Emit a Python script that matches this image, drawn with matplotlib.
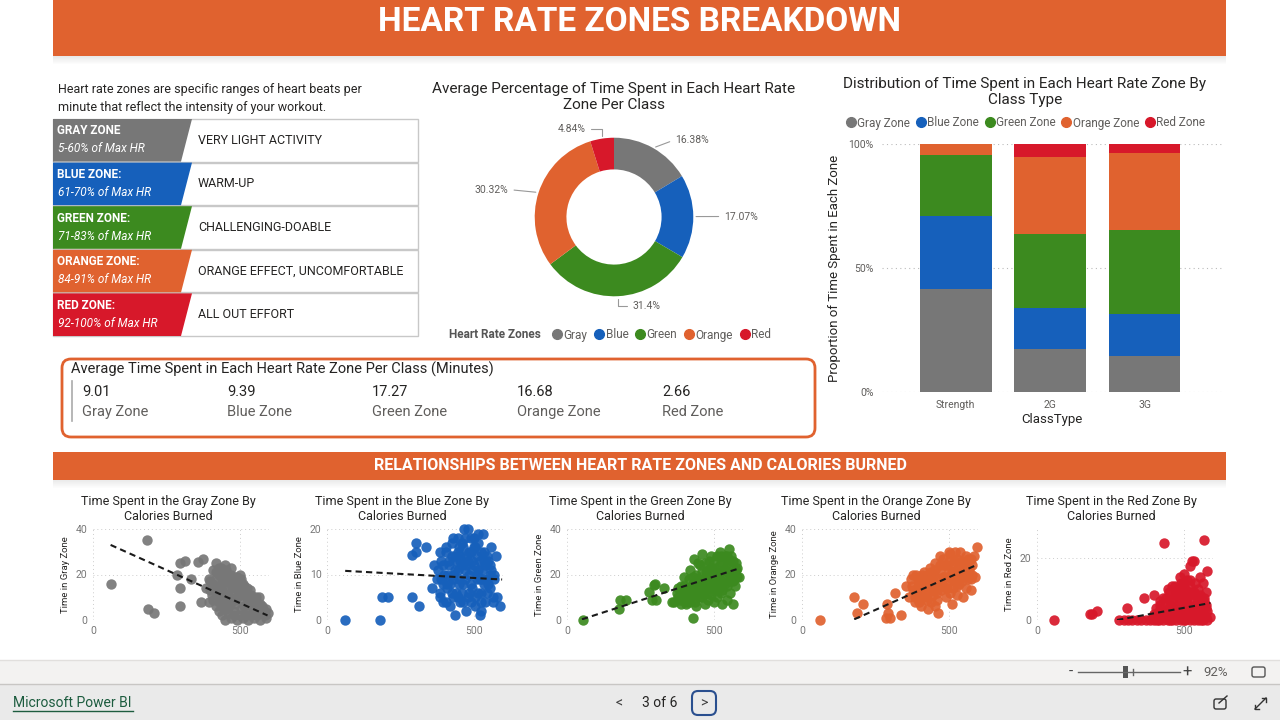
import numpy as np
import matplotlib.pyplot as plt
from matplotlib.patches import Rectangle, Polygon, FancyBboxPatch
from matplotlib.lines import Line2D

plt.rcParams['font.family'] = ['Roboto', 'DejaVu Sans']

W, H = 1280, 720

# ---------------- data ----------------
zone_names = ['Gray', 'Blue', 'Green', 'Orange', 'Red']
zone_colors = ['#777777', '#1660bb', '#3c8a1f', '#e0622f', '#d7182a']

zone_titles = ['GRAY ZONE', 'BLUE ZONE:', 'GREEN ZONE:', 'ORANGE ZONE:', 'RED ZONE:']
zone_ranges = ['5-60% of Max HR', '61-70% of Max HR', '71-83% of Max HR',
               '84-91% of Max HR', '92-100% of Max HR']
zone_desc = ['VERY LIGHT ACTIVITY', 'WARM-UP', 'CHALLENGING-DOABLE',
             'ORANGE EFFECT, UNCOMFORTABLE', 'ALL OUT EFFORT']

donut_pct = [16.38, 17.07, 31.4, 30.32, 4.84]

class_types = ['Strength', '2G', '3G']
share_gray = [41.6, 17.2, 14.7]
share_blue = [29.4, 16.6, 16.8]
share_green = [24.6, 29.9, 33.9]
share_orange = [4.4, 31.1, 31.0]
share_red = [0.0, 5.2, 3.6]

avg_minutes = [9.01, 9.39, 17.27, 16.68, 2.66]

# calories burned vs minutes in zone, one list pair per panel
gray_cal = [60, 184, 188, 208, 288, 295, 295, 298, 312, 335, 358, 369, 375, 384,
            450, 470, 490, 510, 530, 550, 570, 585, 500, 540,
            430, 455, 480, 505, 525, 545, 565, 580, 595, 440,
            410, 430, 450, 470, 490, 510, 530, 550, 570, 395,
            400, 420, 440, 460, 480, 500, 520, 540, 555,
            410, 430, 450, 470, 490, 510, 525, 500, 395, 440,
            420, 440, 460, 480, 500, 505, 410, 455,
            430, 450, 420, 470,
            440, 460, 480, 520, 560, 575, 590,
            420, 445, 465, 485, 515, 535, 555, 575, 590,
            405, 425, 445, 465, 485, 505, 525, 545, 565,
            415, 435, 455, 475, 495, 515, 535,
            400, 420, 440, 460, 480, 500, 515,
            430, 450, 470, 490, 435]
gray_min = [16, 35, 5, 3, 20, 14, 6, 25, 26, 18, 25.6, 8, 27, 14,
            0, 1, 0, 1, 0, 1, 0, 2, 2, 2,
            4, 5, 4, 5, 3, 5, 4, 5, 3, 6,
            9, 8, 9, 8, 10, 8, 9, 7, 7, 8,
            13, 12, 13, 11, 12, 14, 12, 11, 10,
            16, 15, 17, 16, 15, 16, 14, 16, 18, 18,
            21, 20, 20, 19, 20, 18, 22, 22,
            23, 24, 25, 23,
            2, 3, 2, 2, 2, 3, 1,
            6, 7, 6, 7, 6, 7, 5, 6, 5,
            11, 10, 11, 10, 9, 11, 10, 9, 10,
            14, 13, 14, 14, 13, 13, 13,
            17, 18, 16, 18, 17, 17, 15,
            20, 21, 20, 19, 23]

blue_cal = [62, 182, 188, 207, 290, 312, 290, 305, 305, 339, 358,
            365, 375, 380, 385, 390, 395, 400, 405, 410, 415, 420, 425, 430, 435,
            440, 445, 450, 455, 460, 465, 470, 475, 480, 485, 490, 495, 500, 505,
            510, 515, 520, 525, 530, 535, 540, 545, 550, 555, 560, 565, 570, 575,
            580, 590, 420, 440, 460, 480, 500, 520, 540, 450, 470, 490, 510, 430,
            410, 395, 385, 455, 475, 495, 515, 535, 555, 525, 437, 523, 466, 532,
            445, 500, 560,
            385, 405, 425, 445, 465, 485, 505, 525, 545, 565,
            390, 410, 430, 450, 470, 490, 510, 530, 550, 570,
            395, 415, 435, 455, 475, 495, 515, 535, 555,
            405, 425, 445, 465, 485, 505, 525, 545,
            430, 460, 490, 515, 480]
blue_min = [0, 0, 5, 5, 5, 3, 14.3, 17, 15, 16, 7,
            12, 9, 11, 6, 13, 4, 10, 15, 7, 12, 3, 17, 9, 14,
            6, 11, 16, 4, 12, 8, 18, 14, 5, 10, 15, 7, 12, 3,
            9, 17, 13, 6, 11, 15, 4, 9, 13, 7, 11, 5, 9, 14,
            5, 3, 8, 13, 6, 13, 16, 9, 12, 9, 11, 4, 14, 5,
            10, 8, 15, 14, 2, 11, 6, 8, 10, 2, 1, 1, 20, 19,
            18, 18, 16,
            5, 4, 6, 5, 4, 6, 5, 4, 6, 4,
            9, 8, 10, 8, 9, 8, 10, 9, 8, 10,
            12, 13, 11, 13, 12, 13, 11, 13, 12,
            16, 14, 15, 16, 15, 16, 15, 14,
            18, 17, 18, 19, 20]

green_cal = [55, 176, 182, 202, 278, 295, 301, 290, 304, 332, 358,
             365, 375, 385, 390, 400, 405, 410, 415, 420, 425, 430, 435, 440, 445,
             450, 455, 460, 465, 470, 475, 480, 485, 490, 495, 500, 505, 510, 515,
             520, 525, 530, 535, 540, 545, 550, 555, 560, 565, 570, 575, 580, 551,
             574, 585, 528, 566, 430, 432, 460, 445, 400, 420, 480, 500, 470, 440,
             510, 490, 530, 545, 520, 555, 410, 380, 520, 460, 500, 480, 540, 560,
             380, 395, 410, 425, 440, 455, 470, 485, 500, 515, 530, 545, 560, 575,
             390, 405, 420, 435, 450, 465, 480, 495, 510, 525, 540, 555, 570,
             400, 415, 430, 445, 460, 475, 490, 505, 520, 535, 550, 565, 580,
             470, 500, 525, 545, 510, 490]
green_min = [0, 5, 9, 9, 12.4, 15.4, 16, 9, 9, 14, 8,
             8, 12, 9, 15, 11, 7, 14, 18, 10, 13, 16, 8, 20, 12,
             15, 24, 10, 18, 13, 21, 16, 26, 11, 19, 23, 14, 28, 17,
             21, 12, 25, 18, 22, 15, 27, 20, 24, 17, 21, 25, 19, 31,
             15, 19, 7, 7, 1, 27, 29, 25, 19, 22, 9, 8, 7, 6,
             10, 28, 13, 9, 30, 12, 8, 14, 16, 14, 18, 22, 28, 28,
             10, 13, 11, 15, 12, 17, 14, 18, 15, 20, 17, 21, 19, 22,
             7, 9, 8, 11, 10, 12, 12, 14, 13, 15, 16, 17, 18,
             15, 14, 19, 18, 21, 19, 23, 21, 24, 22, 25, 26, 23,
             25, 26, 28, 28, 18, 16]

orange_cal = [60, 178, 207, 187, 291, 293, 285, 299, 316, 339,
              355, 365, 372, 380, 385, 390, 395, 400, 405, 410, 415, 420, 425, 430,
              435, 440, 445, 450, 455, 460, 465, 470, 475, 480, 485, 490, 495, 500,
              505, 510, 515, 520, 525, 530, 535, 540, 545, 550, 555, 560, 565, 570,
              575, 580, 590, 598, 520, 500, 470, 455, 440, 420, 480, 510, 530, 550,
              560, 500, 460, 430, 400, 380, 410, 540, 575, 585, 495, 445,
              375, 390, 405, 420, 435, 450, 465, 480, 495, 510, 525, 540, 555, 570,
              385, 400, 415, 430, 445, 460, 475, 490, 505, 520, 535, 550, 565, 580,
              395, 410, 425, 440, 455, 470, 485, 500, 515, 530, 545, 560, 575]
orange_min = [0, 10, 7, 3, 7, 3, 1, 1, 12, 2,
              15, 10, 18, 13, 8, 20, 15, 11, 6, 17, 21, 13, 9, 18,
              23, 14, 11, 20, 25, 16, 3, 22, 13, 27, 19, 10, 24, 17,
              29, 21, 14, 26, 19, 11, 23, 30, 17, 25, 20, 14, 27, 22,
              18, 24, 19, 32, 30, 30, 28, 6, 8, 17, 15, 7, 15, 10,
              22, 22, 12, 5, 16, 20, 10, 21, 13, 28, 14, 17,
              15, 12, 14, 15, 16, 15, 18, 19, 19, 18, 22, 20, 24, 23,
              10, 8, 10, 12, 13, 9, 16, 14, 12, 17, 16, 19, 18, 20,
              18, 20, 20, 21, 22, 24, 24, 26, 25, 27, 26, 28, 27]

red_cal = [57, 180, 188, 205, 307, 366, 398,
           280, 295, 310, 325, 340, 355, 370, 385, 400, 415, 430, 445, 460, 475,
           490, 505, 520, 535, 550, 565, 580, 590,
           400, 415, 430, 445, 460, 475, 490, 505, 520, 535, 550, 565, 580, 425,
           455, 485, 515, 545, 575,
           420, 440, 455, 470, 485, 500, 515, 530, 545, 560, 575, 510,
           445, 460, 475, 490, 505, 520, 535, 550, 565, 480, 540, 575,
           432, 568, 528, 520, 536, 580, 555, 489, 510, 500,
           395, 410, 425, 440, 455, 470, 485, 500, 515, 530, 545, 560, 575,
           405, 420, 435, 450, 465, 480, 495, 510, 525, 540, 555, 570,
           430, 450, 465, 480, 495, 510, 525, 540, 555, 570,
           470, 500, 520, 495]
red_min = [0, 2, 2, 3, 4, 7, 8,
           0, 0, 0, 0, 0, 0, 0, 0, 0, 0, 0, 0, 0, 0,
           0, 0, 0, 0, 0, 0, 0, 1,
           2, 3, 1, 2, 3, 1, 2, 4, 2, 3, 1, 2, 3, 4,
           4, 3, 1, 4, 4,
           6, 7, 5, 8, 6, 7, 5, 8, 6, 7, 5, 8,
           10, 11, 9, 12, 10, 11, 9, 10, 12, 10, 12, 9,
           25, 26, 19, 17.5, 19, 16, 14, 14, 13, 15,
           1, 0, 2, 1, 0, 2, 1, 0, 2, 1, 2, 0, 1,
           4, 5, 3, 6, 4, 5, 3, 6, 4, 5, 3, 6,
           7, 9, 7, 8, 9, 7, 9, 8, 8, 7,
           11, 12, 13, 11]

# trend line end points (calories, minutes)
trend_gray = ([60, 595], [33, 2])
trend_blue = ([62, 597], [10.8, 8.9])
trend_green = ([51, 580], [0.3, 22.4])
trend_orange = ([178, 592], [0.3, 24])
trend_red = ([273, 591], [0, 5.5])

scatter_x = [gray_cal, blue_cal, green_cal, orange_cal, red_cal]
scatter_y = [gray_min, blue_min, green_min, orange_min, red_min]
trends = [trend_gray, trend_blue, trend_green, trend_orange, trend_red]
y_ticks = [[0, 20, 40], [0, 10, 20], [0, 20, 40], [0, 20, 40], [0, 20]]
y_tops = [40, 20, 40, 40, 29.5]

ORANGE = '#e0622f'
TXT = '#252423'
SUB = '#605e5c'


def px(x, y, w, h):
    return [x / W, 1 - (y + h) / H, w / W, h / H]


fig = plt.figure(figsize=(12.8, 7.2), dpi=100, facecolor='white')

# background / layout layer in pixel coordinates
bg = fig.add_axes([0, 0, 1, 1])
bg.set_xlim(0, W)
bg.set_ylim(H, 0)
bg.axis('off')
bg.set_zorder(-1)

# header band with shadow
for i in range(8):
    bg.add_patch(Rectangle((53, 56 + i), 1173, 1, color='#000000', alpha=0.09 * (1 - i / 8), lw=0))
bg.add_patch(Rectangle((53, 0), 1173, 56, color=ORANGE, lw=0))
bg.text(640, 22, 'HEART RATE ZONES BREAKDOWN', color='white', fontsize=24,
        fontweight='bold', ha='center', va='center')

# intro text
bg.text(58, 89, 'Heart rate zones are specific ranges of heart beats per',
        fontsize=9, color=TXT, va='center')
bg.text(58, 107, 'minute that reflect the intensity of your workout.',
        fontsize=9, color=TXT, va='center')

# zone table
row_top, row_h = 119, 43.6
for i in range(5):
    t = row_top + i * row_h
    bg.add_patch(Rectangle((53, t), 365, row_h - 1, fill=False, ec='#c8c8c8', lw=1))
    bg.add_patch(Polygon([(53, t), (192, t), (181, t + row_h - 1), (53, t + row_h - 1)],
                         closed=True, color=zone_colors[i], lw=0))
    bg.text(57, t + 12, zone_titles[i], color='white', fontsize=8.5,
            fontweight='bold', va='center')
    bg.text(58, t + 30, zone_ranges[i], color='white', fontsize=8.5,
            style='italic', va='center')
    bg.text(198, t + 21, zone_desc[i], color=TXT, fontsize=9, va='center')

# KPI card
bg.add_patch(FancyBboxPatch((62, 359), 753, 78, boxstyle='round,pad=0,rounding_size=9',
                            fc='white', ec=ORANGE, lw=2))
bg.text(71, 369, 'Average Time Spent in Each Heart Rate Zone Per Class (Minutes)',
        fontsize=10.5, color=TXT, va='center')
bg.plot([72, 72], [381, 421], color='#aaaaaa', lw=1.2)
for i, v in enumerate(avg_minutes):
    x = 82 + i * 145
    bg.text(x, 392, f'{v:.2f}', fontsize=10.5, color=TXT, va='center')
    bg.text(x, 412, f'{zone_names[i]} Zone', fontsize=10.5, color=SUB, va='center')

# section band
for i in range(8):
    bg.add_patch(Rectangle((53, 480 + i), 1173, 1, color='#000000', alpha=0.08 * (1 - i / 8), lw=0))
bg.add_patch(Rectangle((53, 452), 1173, 28, color=ORANGE, lw=0))
bg.text(640, 466, 'RELATIONSHIPS BETWEEN HEART RATE ZONES AND CALORIES BURNED',
        color='white', fontsize=11.5, fontweight='bold', ha='center', va='center')

# bottom chrome
bg.add_patch(Rectangle((0, 660), W, 24, color='#f3f2f1', lw=0))
bg.plot([0, W], [660, 660], color='#e1dfdd', lw=1)
bg.add_patch(Rectangle((0, 684), W, 36, color='#eaeaea', lw=0))
bg.plot([0, W], [684, 684], color='#c8c6c4', lw=1)
bg.text(1071, 672, '-', fontsize=11, color='#444', ha='center', va='center')
bg.plot([1078, 1180], [672, 672], color='#666', lw=1)
bg.add_patch(Rectangle((1123, 666), 5, 12, color='#555', lw=0))
bg.plot([1133, 1133], [669, 675], color='#666', lw=1)
bg.text(1187, 672, '+', fontsize=12, color='#444', ha='center', va='center')
bg.text(1216, 672, '92%', fontsize=9.5, color=SUB, ha='center', va='center')
bg.add_patch(FancyBboxPatch((1252, 667), 13, 10, boxstyle='round,pad=0,rounding_size=2',
                            fill=False, ec='#555', lw=1))
bg.text(13, 703, 'Microsoft Power BI', fontsize=10, color='#1d5c3f', va='center')
bg.plot([13, 133], [711, 711], color='#1d5c3f', lw=1)
bg.text(619, 703, '<', fontsize=10, color='#444', ha='center', va='center')
bg.text(660, 703, '3 of 6', fontsize=10, color=TXT, ha='center', va='center')
bg.add_patch(FancyBboxPatch((692, 691), 24, 24, boxstyle='round,pad=0,rounding_size=6',
                            fill=False, ec='#2a4f8f', lw=1.5))
bg.text(704, 703, '>', fontsize=10, color='#444', ha='center', va='center')
bg.add_patch(FancyBboxPatch((1214, 699), 12, 10, boxstyle='round,pad=0,rounding_size=2',
                            fill=False, ec='#333', lw=1))
bg.plot([1219, 1227], [703, 696], color='#333', lw=1)
bg.plot([1255, 1266], [709, 698], color='#333', lw=1)
bg.plot([1255, 1255, 1259], [705, 709, 709], color='#333', lw=1)
bg.plot([1262, 1266, 1266], [698, 698, 702], color='#333', lw=1)

# ---------------- donut ----------------
ax_d = fig.add_axes(px(614 - 111, 217 - 111, 222, 222))
wedges, _ = ax_d.pie(donut_pct, colors=zone_colors, startangle=90, counterclock=False,
                     radius=1, wedgeprops=dict(width=0.4, linewidth=0))
ax_d.set_xlim(-1.4, 1.4)
ax_d.set_ylim(-1.4, 1.4)
ax_d.set_aspect('equal')
for w, v in zip(wedges, donut_pct):
    ang = np.deg2rad((w.theta1 + w.theta2) / 2)
    x, y = np.cos(ang), np.sin(ang)
    s = 1 if x > 0 else -1
    xt, yt = 1.22 * x + 0.12 * s, 1.12 * y
    ax_d.annotate(f'{v:g}%', xy=(x, y), xytext=(xt + 0.05 * s, yt),
                  ha='left' if s > 0 else 'right', va='center', fontsize=7.5, color=SUB,
                  arrowprops=dict(arrowstyle='-', color='#999999', lw=0.8,
                                  relpos=(0, 0.5) if s > 0 else (1, 0.5),
                                  connectionstyle='angle,angleA=0,angleB=90' if abs(y) > 0.9
                                  else 'arc3'))
fig.text(614 / W, 1 - 89 / H, 'Average Percentage of Time Spent in Each Heart Rate',
         fontsize=11, color=TXT, ha='center', va='center')
fig.text(614 / W, 1 - 105 / H, 'Zone Per Class', fontsize=11, color=TXT,
         ha='center', va='center')
fig.text(449 / W, 1 - 335 / H, 'Heart Rate Zones', fontsize=8.5, color='#555555',
         fontweight='bold', va='center')
d_handles = [Line2D([], [], marker='o', ls='', color=c, markersize=7) for c in zone_colors]
fig.legend(d_handles, zone_names, loc='center left', bbox_to_anchor=(551 / W, 1 - 335 / H),
           ncol=5, frameon=False, fontsize=8.5, labelcolor=SUB, handletextpad=0.05,
           columnspacing=0.5, handlelength=1.0, borderpad=0, borderaxespad=0)

# ---------------- 100% stacked bars ----------------
ax_b = fig.add_axes(px(882, 144, 340, 248))
xs = np.arange(len(class_types))
shares = [share_gray, share_blue, share_green, share_orange, share_red]
bottom = np.zeros(len(class_types))
for vals, c, n in zip(shares, zone_colors, zone_names):
    ax_b.bar(xs, vals, bottom=bottom, width=0.76, color=c, lw=0, label=f'{n} Zone')
    bottom += np.array(vals)
ax_b.set_xlim(-0.78, 2.82)
ax_b.set_ylim(0, 100)
ax_b.set_yticks([0, 50, 100])
ax_b.set_yticklabels(['0%', '50%', '100%'])
ax_b.set_xticks(xs)
ax_b.set_xticklabels(class_types)
ax_b.tick_params(length=0, labelsize=7.5, labelcolor=SUB, pad=6)
ax_b.grid(axis='y', linestyle=(0, (1, 3)), color='#bbbbbb', lw=0.8)
ax_b.set_axisbelow(True)
for sp in ax_b.spines.values():
    sp.set_visible(False)
ax_b.set_xlabel('ClassType', fontsize=9.5, color=TXT, labelpad=2)
ax_b.set_ylabel('Proportion of Time Spent in Each Zone', fontsize=9.5, color=TXT, labelpad=5)
fig.text(1025 / W, 1 - 84 / H, 'Distribution of Time Spent in Each Heart Rate Zone By',
         fontsize=11, color=TXT, ha='center', va='center')
fig.text(1025 / W, 1 - 100 / H, 'Class Type', fontsize=11, color=TXT, ha='center', va='center')
fig.legend(d_handles, [f'{n} Zone' for n in zone_names], loc='center',
           bbox_to_anchor=(1025 / W, 1 - 123 / H), ncol=5, frameon=False, fontsize=8.5,
           labelcolor=SUB, handletextpad=0.05, columnspacing=0.4, handlelength=1.0,
           borderpad=0, borderaxespad=0)

# ---------------- scatter panels ----------------
lefts = [93, 327, 567, 802, 1037]
title_x = [168, 402, 640, 876, 1111]
for i in range(5):
    ax = fig.add_axes(px(lefts[i], 529, 176, 91))
    ax.scatter(scatter_x[i], scatter_y[i], s=56, color=zone_colors[i], alpha=0.92,
               lw=0, clip_on=False, zorder=2)
    tx, ty = trends[i]
    ax.plot(tx, ty, color='#1a1a1a', lw=1.5, dashes=(3, 2), zorder=3)
    ax.set_xlim(0, 600)
    ax.set_ylim(0, y_tops[i])
    ax.set_xticks([0, 500])
    ax.set_yticks(y_ticks[i])
    ax.tick_params(length=0, labelsize=7.5, labelcolor='#777777', pad=4)
    ax.grid(True, linestyle=(0, (1, 3)), color='#cccccc', lw=0.7)
    ax.set_axisbelow(True)
    for sp in ax.spines.values():
        sp.set_visible(False)
    ax.set_ylabel(f'Time in {zone_names[i]} Zone', fontsize=6.8, color=TXT, labelpad=4)
    fig.text(title_x[i] / W, 1 - 502 / H, f'Time Spent in the {zone_names[i]} Zone By',
             fontsize=9, color=TXT, ha='center', va='center')
    fig.text(title_x[i] / W, 1 - 517 / H, 'Calories Burned', fontsize=9, color=TXT,
             ha='center', va='center')

fig.savefig('out.png', dpi=100, facecolor='white')
